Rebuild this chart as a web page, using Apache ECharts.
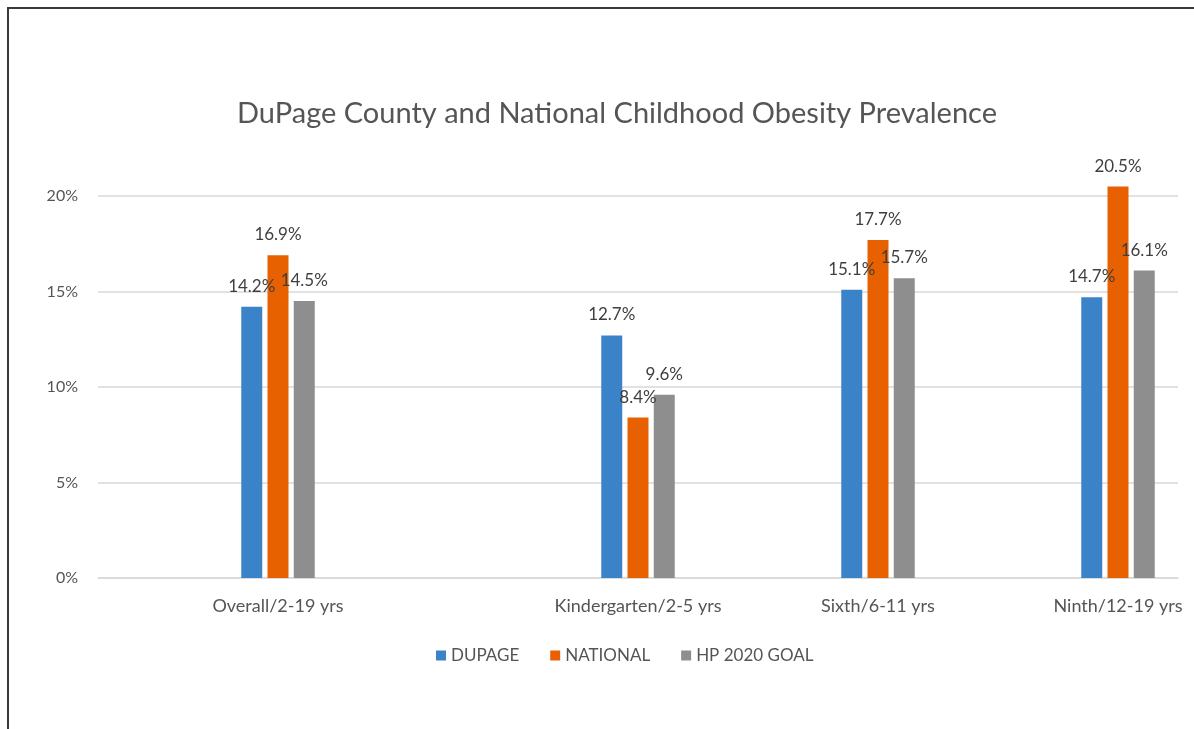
<!DOCTYPE html>
<html>
<head>
<meta charset="utf-8">
<script src="https://cdn.jsdelivr.net/npm/echarts@6/dist/echarts.min.js"></script>
<style>
  html, body { margin: 0; padding: 0; background: #fff; }
  #frame { position: absolute; left: 7px; top: 7px; width: 1200px; height: 740px;
           border-left: 2px solid #3a3a3a; border-top: 2px solid #3a3a3a; }
  #main { position: absolute; left: 0; top: 0; width: 1194px; height: 729px; }
</style>
</head>
<body>
<div id="frame"></div>
<div id="main"></div>
<script>
// categories (blank slots keep the uneven spacing of the source chart)
var categories = ['', 'Overall/2-19 yrs', '', '', 'Kindergarten/2-5 yrs', '', 'Sixth/6-11 yrs', '', 'Ninth/12-19 yrs'];
var dupage   = [null, 14.2, null, null, 12.7, null, 15.1, null, 14.7];
var national = [null, 16.9, null, null, 8.4,  null, 17.7, null, 20.5];
var hpGoal   = [null, 14.5, null, null, 9.6,  null, 15.7, null, 16.1];
var yTicks = [0, 5, 10, 15, 20];

var font = 'Lato';
var myChart = echarts.init(document.getElementById('main'));

function barSeries(name, data, color) {
  return {
    name: name,
    type: 'bar',
    data: data,
    barWidth: 21,
    barGap: '25%',
    itemStyle: { color: color },
    label: {
      show: true,
      position: 'top',
      distance: 12,
      color: '#3f3f3f',
      fontFamily: font,
      fontSize: 17,
      formatter: function (p) { return p.value.toFixed(1) + '%'; }
    }
  };
}

var option = {
  animation: false,
  backgroundColor: 'transparent',
  title: {
    text: 'DuPage County and National Childhood Obesity Prevalence',
    left: 612,
    textAlign: 'center',
    top: 94,
    textStyle: { fontFamily: font, fontSize: 29, fontWeight: 'normal', color: '#555555' }
  },
  legend: {
    data: ['DUPAGE', 'NATIONAL', 'HP 2020 GOAL'],
    left: 431,
    top: 642,
    itemWidth: 10,
    itemHeight: 10,
    itemGap: 31,
    icon: 'rect',
    textStyle: { fontFamily: font, fontSize: 17, color: '#555555' }
  },
  grid: { left: 98, right: 16, top: 177, bottom: 151 },
  xAxis: {
    type: 'category',
    data: categories,
    axisLine: { lineStyle: { color: '#d9d9d9', width: 1.5 } },
    axisTick: { show: false },
    axisLabel: { fontFamily: font, fontSize: 18, color: '#555555', margin: 19, interval: 0 }
  },
  yAxis: {
    type: 'value',
    min: 0,
    max: 21,
    interval: 5,
    axisLine: { show: false },
    axisTick: { show: false },
    splitLine: { showMaxLine: false, lineStyle: { color: '#d9d9d9', width: 1.5 } },
    axisLabel: {
      showMaxLabel: false,
      fontFamily: font, fontSize: 16, color: '#555555', margin: 20,
      formatter: function (v) { return yTicks.indexOf(v) >= 0 ? v + '%' : ''; }
    }
  },
  series: [
    barSeries('DUPAGE', dupage, '#3b83c8'),
    barSeries('NATIONAL', national, '#e86100'),
    barSeries('HP 2020 GOAL', hpGoal, '#8e8e8e')
  ]
};
myChart.setOption(option);
</script>
</body>
</html>
